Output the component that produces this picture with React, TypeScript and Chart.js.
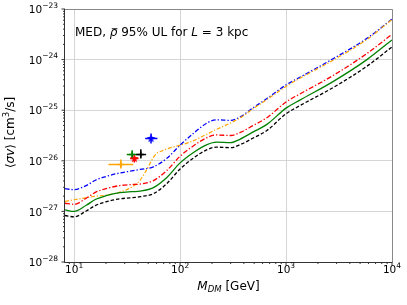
import React, { useEffect, useRef } from "react";
import { Chart, registerables } from "chart.js";

Chart.register(...registerables);

// ---- data ----
const massGrid = [8.2, 10, 13, 16, 20, 27, 35, 42, 56, 75, 100, 135, 180, 220, 300, 370, 490, 660, 1000, 1350, 2800, 5800, 10000];
const limitBlackDashed = [8.3e-28, 7.8e-28, 1.02e-27, 1.32e-27, 1.55e-27, 1.78e-27, 1.86e-27, 1.95e-27, 2.24e-27, 3.55e-27, 6.9e-27, 1.15e-26, 1.66e-26, 1.86e-26, 1.82e-26, 2.09e-26, 2.82e-26, 3.98e-26, 8.5e-26, 1.23e-25, 2.82e-25, 7.4e-25, 1.78e-24];
const limitGreenSolid = [1.07e-27, 1.0e-27, 1.32e-27, 1.74e-27, 2.04e-27, 2.34e-27, 2.45e-27, 2.51e-27, 2.95e-27, 4.68e-27, 9.1e-27, 1.48e-26, 2.09e-26, 2.34e-26, 2.29e-26, 2.69e-26, 3.72e-26, 5.25e-26, 1.1e-25, 1.58e-25, 3.72e-25, 1.0e-24, 2.45e-24];
const limitRedDashDot = [1.45e-27, 1.38e-27, 1.82e-27, 2.4e-27, 2.82e-27, 3.24e-27, 3.39e-27, 3.47e-27, 4.07e-27, 6.46e-27, 1.23e-26, 2.0e-26, 2.88e-26, 3.24e-26, 3.16e-26, 3.63e-26, 5.0e-26, 7.1e-26, 1.45e-25, 2.09e-25, 4.9e-25, 1.32e-24, 3.16e-24];
const limitBlueDashDot = [2.82e-27, 2.69e-27, 3.24e-27, 4.17e-27, 4.9e-27, 5.75e-27, 6.3e-27, 6.76e-27, 7.6e-27, 1.12e-26, 2.04e-26, 3.55e-26, 5.6e-26, 6.46e-26, 6.3e-26, 7.4e-26, 1.12e-25, 1.7e-25, 3.16e-25, 4.47e-25, 1.05e-24, 2.63e-24, 6.3e-24];
const orangeMassGrid = [8.2, 10, 13, 16, 20, 27, 35, 42, 48, 58, 70, 100, 124, 180, 220, 300, 370, 490, 660, 1000, 1350, 2800, 5800, 10000];
const limitOrangeDashDot = [1.58e-27, 1.7e-27, 1.86e-27, 2.0e-27, 2.09e-27, 2.4e-27, 3.02e-27, 4.17e-27, 6.46e-27, 1.29e-26, 1.62e-26, 2.04e-26, 2.34e-26, 3.39e-26, 4.17e-26, 5.6e-26, 7.1e-26, 1.07e-25, 1.62e-25, 2.95e-25, 4.27e-25, 9.8e-25, 2.5e-24, 6.2e-24];

const fitColors = ["#0000ff", "#000000", "#008000", "#ff0000", "#ffa500"];
const fitMarkers = ["star", "plus", "plus", "star", "plus"];
const fitMass = [53.2, 42.6, 35.3, 37.0, 27.6];
const fitMassLo = [46.8, 38.5, 31.4, 33.7, 21.1];
const fitMassHi = [61.1, 47.8, 39.5, 40.5, 36.1];
const fitSigmaV = [2.76e-26, 1.33e-26, 1.33e-26, 1.11e-26, 8.45e-27];
const fitSigmaVLo = [2.2e-26, 1.11e-26, 1.11e-26, 9.25e-27, 7.05e-27];
const fitSigmaVHi = [3.47e-26, 1.69e-26, 1.62e-26, 1.29e-26, 1.06e-26];

const xMajorTicks = [10, 100, 1000, 10000];
const xMajorExponents = ["1", "2", "3", "4"];
const yMajorTicks = [1e-28, 1e-27, 1e-26, 1e-25, 1e-24, 1e-23];
const yMajorExponents = ["\u221228", "\u221227", "\u221226", "\u221225", "\u221224", "\u221223"];

const X_MIN = 8.2;
const X_MAX = 10000;
const Y_MIN = 1e-28;
const Y_MAX = 1e-23;

const FONT = "'DejaVu Sans', sans-serif";

function isMajor(v: number) {
  const l = Math.log10(v);
  return Math.abs(l - Math.round(l)) < 1e-6;
}

function logTicks(min: number, max: number) {
  const out: { value: number; major: boolean }[] = [];
  const e0 = Math.floor(Math.log10(min));
  const e1 = Math.ceil(Math.log10(max));
  for (let e = e0; e <= e1; e++) {
    for (let m = 1; m <= 9; m++) {
      const v = m * Math.pow(10, e);
      if (v >= min * (1 - 1e-9) && v <= max * (1 + 1e-9)) out.push({ value: v, major: m === 1 });
    }
  }
  return out;
}

function makeStar(color: string, size: number) {
  const c = document.createElement("canvas");
  c.width = size;
  c.height = size;
  const g = c.getContext("2d")!;
  g.fillStyle = color;
  g.beginPath();
  const cx = size / 2, cy = size / 2, R = size / 2, r = R * 0.42;
  for (let i = 0; i < 10; i++) {
    const a = -Math.PI / 2 + (i * Math.PI) / 5;
    const rad = i % 2 ? r : R;
    g.lineTo(cx + rad * Math.cos(a), cy + rad * Math.sin(a));
  }
  g.closePath();
  g.fill();
  return c;
}

type Run = { t: string; font: string; dy?: number };

function runsWidth(ctx: CanvasRenderingContext2D, runs: Run[]) {
  let w = 0;
  for (const r of runs) {
    ctx.font = r.font;
    w += ctx.measureText(r.t).width;
  }
  return w;
}

function drawRuns(ctx: CanvasRenderingContext2D, runs: Run[], x: number, y: number) {
  let cx = x;
  const pos: number[] = [];
  for (const r of runs) {
    ctx.font = r.font;
    pos.push(cx);
    ctx.fillText(r.t, cx, y + (r.dy || 0));
    cx += ctx.measureText(r.t).width;
  }
  return pos;
}

const TICK_MAIN = `10.5px ${FONT}`;
const TICK_SUP = `7.5px ${FONT}`;

const decorPlugin = {
  id: "decor",
  afterDraw(chart: any) {
    const { ctx, chartArea: a, scales } = chart;
    ctx.save();
    // tick marks
    ctx.strokeStyle = "#000";
    ctx.lineWidth = 0.8;
    const xs = scales.x;
    for (const t of xs.ticks) {
      const px = xs.getPixelForValue(t.value);
      if (px < a.left - 0.5 || px > a.right + 0.5) continue;
      const len = isMajor(t.value) ? 3.5 : 2;
      ctx.beginPath();
      ctx.moveTo(px, a.bottom);
      ctx.lineTo(px, a.bottom + len);
      ctx.stroke();
    }
    const ys = scales.y;
    for (const t of ys.ticks) {
      const py = ys.getPixelForValue(t.value);
      if (py < a.top - 0.5 || py > a.bottom + 0.5) continue;
      const len = isMajor(t.value) ? 3.5 : 2;
      ctx.beginPath();
      ctx.moveTo(a.left, py);
      ctx.lineTo(a.left - len, py);
      ctx.stroke();
    }
    // frame
    ctx.lineWidth = 1;
    ctx.strokeStyle = "#888";
    ctx.beginPath();
    ctx.moveTo(a.left, a.top + 0.5);
    ctx.lineTo(a.right + 0.5, a.top + 0.5);
    ctx.lineTo(a.right + 0.5, a.bottom);
    ctx.stroke();
    ctx.strokeStyle = "#333";
    ctx.beginPath();
    ctx.moveTo(a.left - 0.5, a.top);
    ctx.lineTo(a.left - 0.5, a.bottom + 0.5);
    ctx.lineTo(a.right + 0.5, a.bottom + 0.5);
    ctx.stroke();

    ctx.fillStyle = "#000";
    ctx.textBaseline = "alphabetic";
    ctx.textAlign = "left";

    // tick labels (10 with superscript exponent)
    xMajorTicks.forEach((v, i) => {
      const px = xs.getPixelForValue(v);
      const runs: Run[] = [
        { t: "10", font: TICK_MAIN },
        { t: xMajorExponents[i], font: TICK_SUP, dy: -5 },
      ];
      const w = runsWidth(ctx, runs);
      drawRuns(ctx, runs, px - w / 2, a.bottom + 10.8);
    });
    yMajorTicks.forEach((v, i) => {
      const py = ys.getPixelForValue(v);
      const runs: Run[] = [
        { t: "10", font: TICK_MAIN },
        { t: yMajorExponents[i], font: TICK_SUP, dy: -5.5 },
      ];
      const w = runsWidth(ctx, runs);
      drawRuns(ctx, runs, a.left - 7 - w, py + 4.2);
    });

    // annotation
    const F12 = `12px ${FONT}`;
    const I12 = `italic 12px ${FONT}`;
    const ann: Run[] = [
      { t: "MED, ", font: F12 },
      { t: "\u03c1", font: I12 },
      { t: " 95% UL for ", font: F12 },
      { t: "L", font: I12 },
      { t: " = 3 kpc", font: F12 },
    ];
    const pos = drawRuns(ctx, ann, a.left + 10, 36);
    ctx.font = I12;
    const rw = ctx.measureText("\u03c1").width;
    ctx.fillRect(pos[1] + 2, 28.3, rw - 2, 0.9);

    // x axis label
    const F11 = `12px ${FONT}`;
    const I11 = `italic 12px ${FONT}`;
    const I8 = `italic 8.5px ${FONT}`;
    const xl: Run[] = [
      { t: "M", font: I11 },
      { t: "DM", font: I8, dy: 2 },
      { t: " [GeV]", font: F11 },
    ];
    const xw = runsWidth(ctx, xl);
    drawRuns(ctx, xl, (a.left + a.right) / 2 - xw / 2, 290);

    // y axis label
    const S8 = `8.5px ${FONT}`;
    const yl: Run[] = [
      { t: "\u27e8", font: F11 },
      { t: "\u03c3v", font: I11 },
      { t: "\u27e9 [cm", font: F11 },
      { t: "3", font: S8, dy: -5 },
      { t: "/s]", font: F11 },
    ];
    const yw = runsWidth(ctx, yl);
    ctx.translate(13.5, (a.top + a.bottom) / 2 - 3);
    ctx.rotate(-Math.PI / 2);
    drawRuns(ctx, yl, -yw / 2, 0);
    ctx.restore();
  },
};

export default function App() {
  const ref = useRef<HTMLCanvasElement | null>(null);
  useEffect(() => {
    if (!ref.current) return;
    const curve = (xs: number[], ys: number[], color: string, dash: number[], width = 1.3) => ({
      type: "line" as const,
      data: xs.map((m, i) => ({ x: m, y: ys[i] })),
      borderColor: color,
      backgroundColor: color,
      borderWidth: width,
      borderDash: dash,
      pointRadius: 0,
      fill: false,
      cubicInterpolationMode: "monotone" as const,
      order: 10,
    });
    const datasets: any[] = [
      curve(massGrid, limitBlackDashed, "#000000", [3.5, 2]),
      curve(massGrid, limitGreenSolid, "#008000", []),
      curve(massGrid, limitRedDashDot, "#ff0000", [5, 2, 1.3, 2]),
      curve(orangeMassGrid, limitOrangeDashDot, "#ffa500", [4, 1.8, 1.2, 1.8], 1.2),
      curve(massGrid, limitBlueDashDot, "#0000ff", [4.5, 2, 1.3, 2]),
    ];
    fitMass.forEach((m, i) => {
      const c = fitColors[i];
      const bar = (pts: { x: number; y: number }[]) => ({
        type: "line" as const,
        data: pts,
        borderColor: c,
        borderWidth: 1.5,
        pointRadius: 0,
        fill: false,
        order: 2,
      });
      datasets.push(bar([{ x: fitMassLo[i], y: fitSigmaV[i] }, { x: fitMassHi[i], y: fitSigmaV[i] }]));
      datasets.push(bar([{ x: m, y: fitSigmaVLo[i] }, { x: m, y: fitSigmaVHi[i] }]));
      const star = fitMarkers[i] === "star";
      datasets.push({
        type: "line" as const,
        data: [{ x: m, y: fitSigmaV[i] }],
        showLine: false,
        borderColor: c,
        backgroundColor: c,
        borderWidth: 1.5,
        pointRadius: star ? 4 : 3,
        pointStyle: star ? makeStar(c, 9) : "cross",
        order: 1,
      });
    });

    const gridColor = (c: any) => (c.tick && isMajor(c.tick.value) ? "#d0d0d0" : "rgba(0,0,0,0)");

    const chart = new Chart(ref.current, {
      type: "line",
      data: { datasets },
      plugins: [decorPlugin],
      options: {
        animation: false,
        responsive: false,
        events: [],
        layout: { padding: { left: 0, right: 15, top: 9, bottom: 0 } },
        plugins: { legend: { display: false }, tooltip: { enabled: false } },
        scales: {
          x: {
            type: "logarithmic",
            min: X_MIN,
            max: X_MAX,
            afterBuildTicks: (s: any) => {
              s.ticks = logTicks(X_MIN, X_MAX);
            },
            afterFit: (s: any) => {
              s.height = 43;
            },
            border: { display: false },
            grid: { drawTicks: false, lineWidth: 0.9, color: gridColor },
            ticks: { display: false, autoSkip: false },
          },
          y: {
            type: "logarithmic",
            min: Y_MIN,
            max: Y_MAX,
            afterBuildTicks: (s: any) => {
              s.ticks = logTicks(Y_MIN, Y_MAX);
            },
            afterFit: (s: any) => {
              s.width = 65;
            },
            border: { display: false },
            grid: { drawTicks: false, lineWidth: 0.9, color: gridColor },
            ticks: { display: false, autoSkip: false },
          },
        },
      } as any,
    });
    return () => chart.destroy();
  }, []);

  return (
    <div style={{ position: "absolute", left: 0, top: 0, width: 407, height: 305, background: "#fff" }}>
      <canvas ref={ref} width={407} height={305} style={{ display: "block" }} />
    </div>
  );
}
